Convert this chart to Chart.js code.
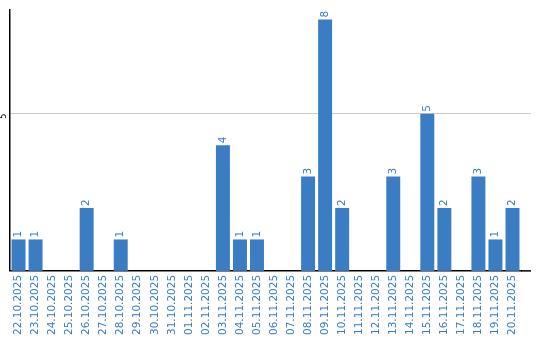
<!DOCTYPE html>
<html>
<head>
<meta charset="utf-8">
<script src="https://cdn.jsdelivr.net/npm/chart.js@4/dist/chart.umd.min.js"></script>
<style>
  html, body { margin: 0; padding: 0; background: #fff; }
  #wrap { width: 540px; height: 340px; }
</style>
</head>
<body>
<div id="wrap"><canvas id="barChart" width="540" height="340"></canvas></div>
<script>
var dates = [
  '22.10.2025', '23.10.2025', '24.10.2025', '25.10.2025', '26.10.2025',
  '27.10.2025', '28.10.2025', '29.10.2025', '30.10.2025', '31.10.2025',
  '01.11.2025', '02.11.2025', '03.11.2025', '04.11.2025', '05.11.2025',
  '06.11.2025', '07.11.2025', '08.11.2025', '09.11.2025', '10.11.2025',
  '11.11.2025', '12.11.2025', '13.11.2025', '14.11.2025', '15.11.2025',
  '16.11.2025', '17.11.2025', '18.11.2025', '19.11.2025', '20.11.2025'
]
var counts = [1, 1, 0, 0, 2, 0, 1, 0, 0, 0, 0, 0, 4, 1, 1, 0, 0, 3, 8, 2, 0, 0, 3, 0, 5, 2, 0, 3, 1, 2]
var yTicks = [5]

var blue = '#3b7dc3'
var labelBlue = '#3a7cc6'
var labelFont = '10.5px "DejaVu Sans"'

function drawRotated(ctx, text, x, y) {
  ctx.save()
  ctx.translate(x, y)
  ctx.rotate(-Math.PI / 2)
  ctx.fillText(text, 0, 0)
  ctx.restore()
}

// value labels on top of bars, y tick labels, and axis/grid lines
// that run a bit past the last category
var extras = {
  id: 'extras',
  afterDraw: function(chart) {
    var ctx = chart.ctx
    var area = chart.chartArea
    var y = chart.scales.y
    var meta = chart.getDatasetMeta(0)
    ctx.save()

    ctx.strokeStyle = '#cccccc'
    ctx.lineWidth = 1
    yTicks.forEach(function(t) {
      var py = Math.round(y.getPixelForValue(t) - 0.5) + 0.5
      ctx.beginPath()
      ctx.moveTo(area.right, py)
      ctx.lineTo(area.right + 10, py)
      ctx.stroke()
    })
    ctx.strokeStyle = '#000'
    ctx.lineWidth = 1.5
    ctx.beginPath()
    ctx.moveTo(area.right, area.bottom)
    ctx.lineTo(area.right + 10, area.bottom)
    ctx.stroke()

    ctx.font = labelFont
    ctx.fillStyle = labelBlue
    ctx.textAlign = 'left'
    ctx.textBaseline = 'middle'
    meta.data.forEach(function(bar, i) {
      if (!counts[i]) return
      drawRotated(ctx, String(counts[i]), bar.x, bar.y - 2)
    })

    ctx.font = '8px "DejaVu Sans"'
    ctx.fillStyle = '#000'
    ctx.textAlign = 'right'
    yTicks.forEach(function(t) {
      drawRotated(ctx, String(t), 4, y.getPixelForValue(t))
    })
    ctx.restore()
  }
}

new Chart(document.getElementById('barChart').getContext('2d'), {
  type: 'bar',
  data: {
    labels: dates,
    datasets: [{
      data: counts,
      backgroundColor: blue,
      borderWidth: 0,
      barPercentage: 0.82,
      categoryPercentage: 1
    }]
  },
  options: {
    responsive: false,
    animation: false,
    events: [],
    layout: { padding: { top: 10, right: 19, bottom: 1, left: 10 } },
    plugins: {
      legend: { display: false },
      tooltip: { enabled: false }
    },
    scales: {
      x: {
        grid: { display: false, drawTicks: false },
        border: { display: true, color: '#000', width: 1.5 },
        ticks: {
          autoSkip: false,
          minRotation: 90,
          maxRotation: 90,
          padding: 4,
          color: labelBlue,
          font: { family: 'DejaVu Sans', size: 10.5 }
        }
      },
      y: {
        min: 0,
        max: 8.3,
        afterBuildTicks: function(scale) {
          scale.ticks = yTicks.map(function(v) { return { value: v } })
        },
        grid: { color: '#cccccc', drawTicks: false },
        border: { display: true, color: '#000', width: 1.5 },
        ticks: { display: false }
      }
    }
  },
  plugins: [extras]
})
</script>
</body>
</html>
